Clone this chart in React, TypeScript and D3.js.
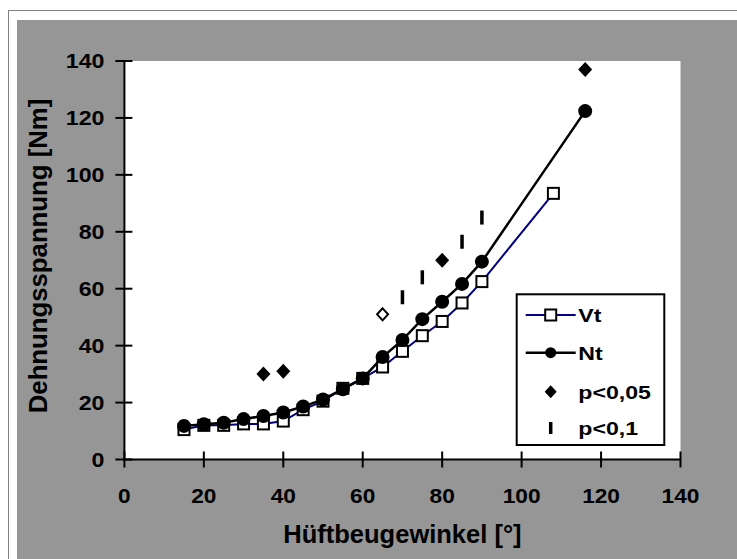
import React from "react";
import * as d3 from "d3";

// hip flexion angle [deg]
const vtAngles = [15, 20, 25, 30, 35, 40, 45, 50, 55, 60, 65, 70, 75, 80, 85, 90, 108];
const vtValues = [10.5, 12, 12, 12.5, 12.5, 13.5, 17.5, 20.5, 25, 28.5, 32.5, 38, 43.5, 48.5, 55, 62.5, 93.5];

const ntAngles = [15, 20, 25, 30, 35, 40, 45, 50, 55, 60, 65, 70, 75, 80, 85, 90, 116];
const ntValues = [11.8, 12.4, 12.9, 14.2, 15.3, 16.5, 18.6, 21.1, 24.7, 28.5, 36, 42, 49.3, 55.4, 61.7, 69.5, 122.4];

// significance markers
const p05Angles = [35, 40, 80, 116];
const p05Values = [30, 31, 70, 137];
const openAngles = [65];
const openValues = [51];
const p1Angles = [70, 75, 85, 90];
const p1Values = [57, 64, 76.5, 85];

const xTicks = [0, 20, 40, 60, 80, 100, 120, 140];
const yTicks = [0, 20, 40, 60, 80, 100, 120, 140];

const FONT = "'Liberation Sans', Arial, sans-serif";

const zip = (a: number[], b: number[]) => a.map((v, i) => [v, b[i]] as [number, number]);

// stretched text, like the original
const T = ({ x, y, s, size, anchor, children, rotate }: any) => (
  <text
    transform={`translate(${x},${y})${rotate ? ` rotate(${rotate})` : ""} scale(${s},1)`}
    fontSize={size}
    fontWeight="bold"
    fontFamily={FONT}
    textAnchor={anchor || "start"}
    fill="#000"
  >
    {children}
  </text>
);

const diamond = (cx: number, cy: number, w: number, h: number) =>
  `M${cx},${cy - h} L${cx + w},${cy} L${cx},${cy + h} L${cx - w},${cy} Z`;

export default function App() {
  const W = 737, H = 559;
  const plot = { left: 124.4, right: 680.5, top: 61, bottom: 459.5 };

  const x = d3.scaleLinear().domain([0, 140]).range([plot.left, plot.right]);
  const y = d3.scaleLinear().domain([0, 140]).range([plot.bottom, plot.top]);

  const line = d3.line<[number, number]>().x(d => x(d[0])).y(d => y(d[1]));

  const vt = zip(vtAngles, vtValues);
  const nt = zip(ntAngles, ntValues);

  //legend
  const lg = { x: 516.7, y: 294.3, w: 147.6, h: 150.7 };
  const rows = [315, 352.7, 391.7, 428];
  const mx = 550.7;

  return (
    <svg width={W} height={H} style={{ position: "absolute", left: 0, top: 0 }}>
      <rect x={0} y={0} width={W} height={H} fill="#fff" />
      <rect x={8.5} y={10.5} width={W} height={H} fill="#fff" stroke="#808080" strokeWidth={1} />
      <rect x={17} y={20} width={W} height={H} fill="#969696" />
      <rect x={plot.left} y={plot.top} width={plot.right - plot.left} height={plot.bottom - plot.top} fill="#fff" />

      {/* axes */}
      <line x1={plot.left} x2={plot.left} y1={plot.top} y2={plot.bottom} stroke="#000" strokeWidth={2} />
      <line x1={plot.left} x2={plot.right} y1={plot.bottom} y2={plot.bottom} stroke="#000" strokeWidth={2} />
      {yTicks.map(t => (
        <g key={"y" + t}>
          <line x1={plot.left - 9} x2={plot.left + 8} y1={y(t)} y2={y(t)} stroke="#000" strokeWidth={2} />
          <T x={104.5} y={y(t) + 7} s={1.16} size={20} anchor="end">{t}</T>
        </g>
      ))}
      {xTicks.map(t => (
        <g key={"x" + t}>
          <line x1={x(t)} x2={x(t)} y1={plot.bottom - 8} y2={plot.bottom + 8} stroke="#000" strokeWidth={2} />
          <T x={x(t)} y={502.5} s={1.08} size={21} anchor="middle">{t}</T>
        </g>
      ))}

      <T x={(plot.left + plot.right) / 2} y={542.5} s={1.02} size={25} anchor="middle">Hüftbeugewinkel [°]</T>
      <T x={46.5} y={256} s={1.03} size={25} anchor="middle" rotate={-90}>Dehnungsspannung [Nm]</T>

      {/* Vt */}
      <path d={line(vt) || ""} fill="none" stroke="#000080" strokeWidth={2} />
      {vt.map((d, i) => (
        <rect key={"vt" + i} x={x(d[0]) - 5.5} y={y(d[1]) - 5.5} width={11} height={11} fill="#fff" stroke="#000" strokeWidth={2} />
      ))}

      {/* Nt */}
      <path d={line(nt) || ""} fill="none" stroke="#000" strokeWidth={2.5} />
      {nt.map((d, i) => (
        <circle key={"nt" + i} cx={x(d[0])} cy={y(d[1])} r={7} fill="#000" />
      ))}

      {p05Angles.map((a, i) => (
        <path key={"p05" + i} d={diamond(x(a), y(p05Values[i]), 7, 7.5)} fill="#000" />
      ))}
      {openAngles.map((a, i) => (
        <path key={"op" + i} d={diamond(x(a), y(openValues[i]), 5.5, 6)} fill="#fff" stroke="#000" strokeWidth={2} />
      ))}
      {p1Angles.map((a, i) => (
        <rect key={"p1" + i} x={x(a) - 1.75} y={y(p1Values[i]) - 7} width={3.5} height={14} fill="#000" />
      ))}

      {/* legend */}
      <rect x={lg.x} y={lg.y} width={lg.w} height={lg.h} fill="#fff" stroke="#000" strokeWidth={2} />
      <line x1={525.7} x2={575.7} y1={rows[0]} y2={rows[0]} stroke="#000080" strokeWidth={2} />
      <rect x={mx - 5.5} y={rows[0] - 5.5} width={11} height={11} fill="#fff" stroke="#000" strokeWidth={2} />
      <line x1={525.7} x2={575.7} y1={rows[1]} y2={rows[1]} stroke="#000" strokeWidth={2.5} />
      <circle cx={mx} cy={rows[1]} r={5.5} fill="#000" />
      <path d={diamond(mx, rows[2], 6, 6.5)} fill="#000" />
      <rect x={mx - 1.75} y={rows[3] - 6} width={3.5} height={12} fill="#000" />
      {["Vt", "Nt", "p<0,05", "p<0,1"].map((s, i) => (
        <T key={s} x={578.3} y={rows[i] + 7} s={1.25} size={18.5}>{s}</T>
      ))}
    </svg>
  );
}
